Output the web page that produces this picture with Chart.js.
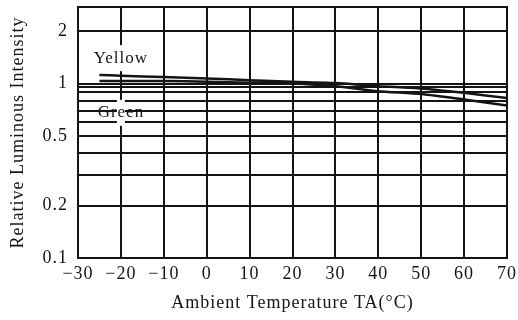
<!DOCTYPE html>
<html>
<head>
<meta charset="utf-8">
<script src="https://cdn.jsdelivr.net/npm/chart.js@4.4.1/dist/chart.umd.min.js"></script>
<style>
  html, body { margin: 0; padding: 0; background: #fff; overflow: hidden; }
</style>
</head>
<body>
<canvas id="lumChart" width="518" height="320"></canvas>
<script>
// temperature (°C) and relative luminous intensity
const temps = [-25, -20, -10, 0, 10, 20, 30, 40, 50, 60, 70];
const yellow = [1.12, 1.11, 1.09, 1.07, 1.047, 1.024, 1.008, 0.967, 0.939, 0.885, 0.826];
const green = [1.036, 1.036, 1.036, 1.024, 1.013, 1.002, 0.967, 0.905, 0.872, 0.811, 0.748];

const gridValues = [0.1, 0.2, 0.3, 0.4, 0.5, 0.6, 0.7, 0.8, 0.9, 0.95, 1, 2];
const labelledValues = [0.1, 0.2, 0.5, 1, 2];

const ink = '#141414';
const serif = "'Liberation Serif', 'DejaVu Serif', serif";

// the scanned lettering is a bit wider spaced than the font
const spacing = {
    id: 'spacing',
    beforeUpdate(chart) { chart.ctx.letterSpacing = '1px'; },
    beforeDraw(chart) { chart.ctx.letterSpacing = '1px'; }
};

// series names written on the plot, with a white gap cut in the grid behind them
const curveLabels = {
    id: 'curveLabels',
    afterDatasetsDraw(chart, args, opts) {
        const ctx = chart.ctx;
        const xs = chart.scales.x;
        const ys = chart.scales.y;
        ctx.save();
        ctx.font = '17px ' + serif;
        ctx.letterSpacing = '1px';
        ctx.textAlign = 'center';
        ctx.textBaseline = 'middle';
        opts.items.forEach(item => {
            const px = xs.getPixelForValue(item.x);
            const py = ys.getPixelForValue(item.y);
            ctx.fillStyle = '#fff';
            ctx.fillRect(px - 4, py - 13, 8, 26);
            ctx.fillStyle = ink;
            ctx.fillText(item.text, px, py);
        });
        ctx.restore();
    }
};

// frame round the plot area
const frame = {
    id: 'frame',
    afterDraw(chart) {
        const { ctx, chartArea: a } = chart;
        ctx.save();
        ctx.strokeStyle = ink;
        ctx.lineWidth = 2;
        ctx.strokeRect(a.left, a.top, a.right - a.left, a.bottom - a.top);
        ctx.restore();
    }
};

const ctx = document.getElementById('lumChart').getContext('2d');

new Chart(ctx, {
    type: 'line',
    data: {
        labels: temps,
        datasets: [
            {
                label: 'Yellow',
                data: temps.map((t, i) => ({ x: t, y: yellow[i] })),
                borderColor: ink,
                borderWidth: 2.5,
                pointRadius: 0,
                tension: 0.2
            },
            {
                label: 'Green',
                data: temps.map((t, i) => ({ x: t, y: green[i] })),
                borderColor: ink,
                borderWidth: 2.5,
                pointRadius: 0,
                tension: 0.2
            }
        ]
    },
    options: {
        responsive: false,
        animation: false,
        devicePixelRatio: 1,
        layout: { padding: { top: 7, right: 0, left: 0, bottom: 0 } },
        plugins: {
            legend: { display: false },
            tooltip: { enabled: false },
            curveLabels: {
                items: [
                    { text: 'Yellow', x: -20, y: 1.4 },
                    { text: 'Green', x: -20, y: 0.68 }
                ]
            }
        },
        scales: {
            x: {
                type: 'linear',
                min: -30,
                max: 70,
                ticks: {
                    stepSize: 10,
                    padding: 5,
                    color: ink,
                    font: { family: serif, size: 18 },
                    callback: v => (v < 0 ? '\u2212' + Math.abs(v) : String(v))
                },
                grid: { color: ink, lineWidth: 2, drawTicks: false },
                border: { color: ink, width: 2 },
                title: {
                    display: true,
                    text: 'Ambient Temperature TA(\u00b0C)',
                    color: ink,
                    font: { family: serif, size: 18 },
                    padding: { top: 0, bottom: 6 }
                },
                afterFit: s => {
                    s.height = 62;
                    s.paddingLeft = 0;
                    s.paddingRight = 11;
                }
            },
            y: {
                type: 'logarithmic',
                min: 0.1,
                max: 2.75,
                afterBuildTicks: axis => {
                    axis.ticks = gridValues.map(v => ({ value: v }));
                },
                ticks: {
                    autoSkip: false,
                    padding: 10,
                    color: ink,
                    font: { family: serif, size: 18 },
                    callback: v => (labelledValues.includes(v) ? String(v) : '')
                },
                grid: { color: ink, lineWidth: 2, drawTicks: false },
                border: { color: ink, width: 2 },
                title: {
                    display: true,
                    text: 'Relative Luminous Intensity',
                    color: ink,
                    font: { family: serif, size: 18 },
                    padding: { top: 7, bottom: 0 }
                },
                afterFit: s => {
                    s.width = 78;
                    s.paddingTop = 0;
                    s.paddingBottom = 0;
                }
            }
        }
    },
    plugins: [spacing, curveLabels, frame]
});
</script>
</body>
</html>
